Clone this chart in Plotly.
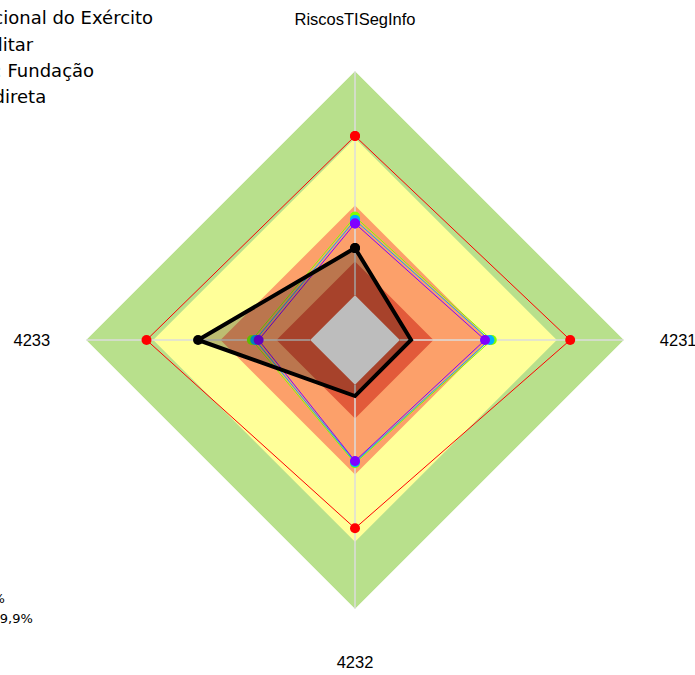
import plotly.graph_objects as go

# ---------------- data ----------------
categories = ["RiscosTISegInfo", "4231", "4232", "4233"]

band_levels = [100, 70, 40, 15, 0]
band_names = ["Aprimorado: 70% a 100%", "Intermediário: 40,0% a 69,9%",
              "Iniciando: 15% a 39,9%", "Inexpressivo: 0 a 14,9%", "Nulo"]
band_colors = ["#b8e08c", "#ffff99", "#fca06a", "#e25a3a", "#ffffff"]

series_names = ["Fundação Habitacional do Exército", "Tipo de órgão: Militar",
                "Natureza Jurídica: Fundação", "Administração Indireta", "Máximo"]
org_values = [21, 5, 5, 50]
militar_values = [35, 41, 35, 26]
fundacao_values = [33.5, 40, 34.5, 24.5]
indireta_values = [32, 38, 34, 23]
maximo_values = [71, 76, 64, 73]

radial_range = [-20, 100]

# ---------------- figure ----------------
fig = go.Figure()

def closed(v):
    return list(v) + [v[0]]

theta_closed = closed(categories)

# background bands
for lvl, name, col in zip(band_levels, band_names, band_colors):
    fig.add_trace(go.Scatterpolar(
        r=[lvl] * len(theta_closed), theta=theta_closed,
        mode="lines", fill="toself", fillcolor=col,
        line=dict(width=0, color=col), name=name,
        legend="legend2", showlegend=(col != "#ffffff"),
        hoverinfo="skip"))

# spokes drawn over the coloured bands
spoke_r, spoke_t = [], []
for c in categories:
    spoke_r += [band_levels[-1], band_levels[0], None]
    spoke_t += [c, c, c]
fig.add_trace(go.Scatterpolar(r=spoke_r, theta=spoke_t, mode="lines",
                              line=dict(color="#dcdcdc", width=1.5),
                              showlegend=False, hoverinfo="skip"))

series = [
    (maximo_values, series_names[4], "#ff0000", 5),
    (militar_values, series_names[1], "#80ff00", 2),
    (fundacao_values, series_names[2], "#00b0ff", 3),
    (indireta_values, series_names[3], "#8000ff", 4),
]
for vals, name, col, rank in series:
    fig.add_trace(go.Scatterpolar(
        r=closed(vals), theta=theta_closed, mode="lines+markers",
        line=dict(color=col, width=1), marker=dict(color=col, size=10),
        name=name, legendrank=rank))

fig.add_trace(go.Scatterpolar(
    r=closed(org_values), theta=theta_closed, mode="lines+markers",
    fill="toself", fillcolor="rgba(0,0,0,0.26)",
    line=dict(color="black", width=4), marker=dict(color="black", size=10),
    name=series_names[0], legendrank=1))

# transparent overlay subplot that only carries the top / bottom axis labels
fig.add_trace(go.Scatterpolar(
    r=org_values, theta=categories, subplot="polar2", mode="markers",
    marker=dict(opacity=0), showlegend=False, hoverinfo="skip"))

side_text = [c if i % 2 == 1 else "" for i, c in enumerate(categories)]
vert_text = [c if i % 2 == 0 else "" for i, c in enumerate(categories)]

def angular(ticklen, text):
    return dict(direction="clockwise", rotation=90, showgrid=False,
                showline=False, ticks="outside", ticklen=ticklen,
                tickcolor="rgba(0,0,0,0)",
                tickfont=dict(size=16.5, color="black"),
                tickmode="array", tickvals=categories, ticktext=text,
                categoryorder="array", categoryarray=categories)

fig.update_layout(
    width=695, height=675,
    margin=dict(l=86, r=71, t=71, b=66, autoexpand=False),
    paper_bgcolor="white",
    font=dict(family="Arial", color="black"),
    polar=dict(
        domain=dict(x=[0, 1], y=[0, 1]),
        bgcolor="white",
        gridshape="linear",
        radialaxis=dict(visible=False, range=radial_range),
        angularaxis=angular(32, side_text),
    ),
    polar2=dict(
        domain=dict(x=[0, 1], y=[0, 1]),
        bgcolor="rgba(0,0,0,0)",
        gridshape="linear",
        radialaxis=dict(visible=False, range=radial_range),
        angularaxis=angular(39, vert_text),
    ),
    legend=dict(x=-0.5279, xanchor="left", y=1.134, yanchor="top",
                font=dict(size=18, family="DejaVu Sans"),
                bgcolor="rgba(0,0,0,0)"),
    legend2=dict(x=-0.5357, xanchor="left", y=0.0483, yanchor="top",
                 font=dict(size=13, family="DejaVu Sans"),
                 bgcolor="rgba(0,0,0,0)"),
)

fig.write_html("out.html", config={"displayModeBar": False},
               post_script="document.body.style.margin='0px';")
